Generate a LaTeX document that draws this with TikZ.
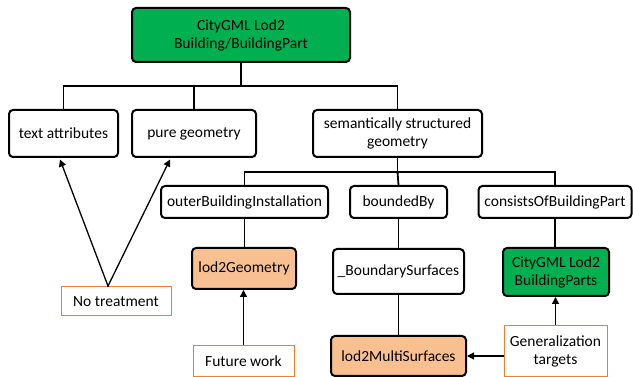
\documentclass[tikz,border=0pt]{standalone}
\usepackage{fontspec}
\setmainfont{Carlito}
\usetikzlibrary{arrows.meta}
\definecolor{boxgreen}{HTML}{00B050}
\definecolor{peach}{HTML}{F8C090}
\definecolor{orangeline}{HTML}{ED7D31}
\begin{document}
\begin{tikzpicture}[x=1pt,y=-1pt,
  every node/.style={font=\fontsize{15.5}{18}\selectfont, align=center, inner sep=0pt},
  blk/.style={draw=black, line width=2pt, rounded corners=4pt, fill=white},
  gbox/.style={blk, fill=boxgreen},
  pbox/.style={blk, fill=peach},
  obox/.style={draw=orangeline, line width=1pt, fill=white},
  conn/.style={line width=1.8pt},
  arr/.style={line width=1.3pt, -{Triangle[length=7pt,width=7pt]}}]
\useasboundingbox (0,0) rectangle (633,377);
\node[gbox, minimum width=218pt, minimum height=54pt] (top) at (241,35) {CityGML Lod2\\Building/BuildingPart};
\node[blk, minimum width=109pt, minimum height=47pt] (text) at (63.5,133.5) {text attributes};
\node[blk, minimum width=124pt, minimum height=47pt] (pure) at (194,133.5) {pure geometry};
\node[blk, minimum width=169pt, minimum height=47pt] (sem) at (397.5,133.5) {semantically structured\\geometry};
\node[blk, minimum width=167pt, minimum height=32pt] (outer) at (244.5,202) {outerBuildingInstallation};
\node[blk, minimum width=97pt, minimum height=32pt] (bound) at (398.5,202) {boundedBy};
\node[blk, minimum width=153pt, minimum height=32pt] (cons) at (555,202) {consistsOfBuildingPart};
\node[pbox, minimum width=104pt, minimum height=41pt] (lodg) at (244,268.5) {lod2Geometry};
\node[blk, minimum width=131pt, minimum height=45pt] (bs) at (398.5,271.5) {\_BoundarySurfaces};
\node[gbox, minimum width=106pt, minimum height=48pt] (bp) at (556,272) {CityGML Lod2\\BuildingParts};
\node[pbox, minimum width=135pt, minimum height=40pt] (ms) at (398.5,356) {lod2MultiSurfaces};
\node[obox, minimum width=103pt, minimum height=51pt] (gen) at (555.5,351) {Generalization\\targets};
\node[obox, minimum width=110pt, minimum height=29pt] (nt) at (116,301.5) {No treatment};
\node[obox, minimum width=101pt, minimum height=31pt] (fw) at (243.5,361.5) {Future work};
\coordinate (apex) at (108,286);
% tree connectors
\draw[conn] (top.south) -- (241,86) -| (text.north);
\draw[conn] (194,86) -- (pure.north);
\draw[conn] (241,86) -| (sem.north);
\draw[conn] (sem.south) -- (397.5,172) -| (outer.north);
\draw[conn] (397.5,172) -| (cons.north);
\draw[conn] (397.5,172) -- (bound.north);
\draw[conn] (bound.south) -- (bs.north);
\draw[conn] (bs.south) -- (ms.north);
\draw[conn] (outer.south) -- (lodg.north -| outer.south);
\draw[conn] (cons.south) -- (bp.north -| cons.south);
% arrows
\draw[arr] (apex) -- (60,159.5);
\draw[arr] (apex) -- (170,159.5);
\draw[line width=1.3pt] (apex) -- (nt.north -| apex);
\draw[arr] (fw.north) -- (lodg.south -| fw.north);
\draw[arr] (gen.north) -- (bp.south -| gen.north);
\draw[arr] (gen.west |- ms.east) -- (ms.east);
\end{tikzpicture}
\end{document}
